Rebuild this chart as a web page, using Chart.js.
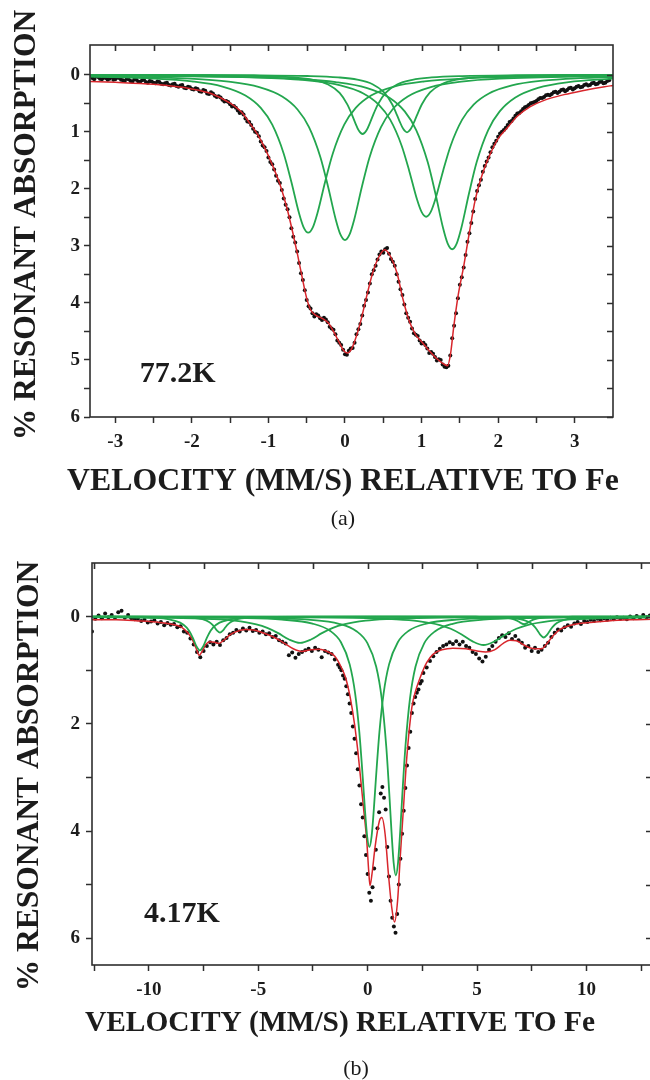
<!DOCTYPE html>
<html>
<head>
<meta charset="utf-8">
<script src="https://cdn.jsdelivr.net/npm/chart.js@4.4.1/dist/chart.umd.min.js"></script>
<style>
  html, body { margin: 0; padding: 0; background: #fff; width: 650px; height: 1080px; overflow: hidden; }
  canvas { position: absolute; left: 0; }
  .caption { position: absolute; left: 0; text-align: center; font: 22px "Liberation Serif", "Times New Roman", serif; color: #1a1a1a; line-height: 24px; }
</style>
</head>
<body>
<canvas id="chartA" width="650" height="540" style="top:0"></canvas>
<canvas id="chartB" width="660" height="540" style="top:540px"></canvas>
<div class="caption" style="top:506px; width:686px">(a)</div>
<div class="caption" style="top:1056px; width:712px">(b)</div>
<script>
// ---------- panel (a): 77.2 K ----------
const xTicksA = [-3, -2.5, -2, -1.5, -1, -0.5, 0, 0.5, 1, 1.5, 2, 2.5, 3];
const yTicksA = [0, 0.5, 1, 1.5, 2, 2.5, 3, 3.5, 4, 4.5, 5, 5.5, 6];

// measured spectrum, velocity (mm/s) and % absorption (even channels)
const velA = [-3.3,-3.25,-3.2,-3.15,-3.1,-3.05,-3,-2.95,-2.9,-2.85,-2.8,-2.75,-2.7,-2.65,-2.6,-2.55,-2.5,-2.45,-2.4,-2.35,-2.3,-2.25,-2.2,-2.15,-2.1,-2.05,-2,-1.95,-1.9,-1.85,-1.8,-1.75,-1.7,-1.65,-1.6,-1.55,-1.5,-1.45,-1.4,-1.35,-1.3,-1.25,-1.2,-1.15,-1.1,-1.05,-1,-0.95,-0.9,-0.85,-0.8,-0.75,-0.7,-0.65,-0.6,-0.55,-0.5,-0.45,-0.4,-0.35,-0.3,-0.25,-0.2,-0.15,-0.1,-0.05,0,0.05,0.1,0.15,0.2,0.25,0.3,0.35,0.4,0.45,0.5,0.55,0.6,0.65,0.7,0.75,0.8,0.85,0.9,0.95,1,1.05,1.1,1.15,1.2,1.25,1.3,1.35,1.4,1.45,1.5,1.55,1.6,1.65,1.7,1.75,1.8,1.85,1.9,1.95,2,2.05,2.1,2.15,2.2,2.25,2.3,2.35,2.4,2.45,2.5,2.55,2.6,2.65,2.7,2.75,2.8,2.85,2.9,2.95,3,3.05,3.1,3.15,3.2,3.25,3.3,3.35,3.4,3.45];
const absA = [.06,.03,.07,.05,.09,.04,.08,.06,.10,.07,.11,.08,.12,.10,.13,.11,.14,.12,.16,.15,.18,.17,.20,.19,.23,.21,.25,.24,.29,.27,.33,.31,.37,.38,.44,.46,.52,.55,.63,.66,.77,.83,.95,1.02,1.17,1.27,1.45,1.57,1.77,1.90,2.17,2.36,2.69,2.94,3.30,3.60,3.95,4.10,4.24,4.22,4.30,4.29,4.42,4.47,4.66,4.74,4.90,4.84,4.79,4.55,4.37,4.05,3.82,3.50,3.35,3.15,3.12,3.04,3.23,3.35,3.63,3.86,4.18,4.33,4.53,4.58,4.71,4.74,4.88,4.89,5.01,5.00,5.12,5.10,4.62,4.18,3.68,3.38,2.93,2.60,2.18,1.94,1.70,1.52,1.36,1.21,1.09,1.00,.93,.83,.77,.68,.64,.57,.53,.49,.46,.41,.39,.35,.34,.30,.30,.26,.27,.23,.24,.20,.21,.17,.18,.14,.16,.12,.14,.10];
// odd channels
const velA2 = [-3.275,-3.225,-3.175,-3.125,-3.075,-3.025,-2.975,-2.925,-2.875,-2.825,-2.775,-2.725,-2.675,-2.625,-2.575,-2.525,-2.475,-2.425,-2.375,-2.325,-2.275,-2.225,-2.175,-2.125,-2.075,-2.025,-1.975,-1.925,-1.875,-1.825,-1.775,-1.725,-1.675,-1.625,-1.575,-1.525,-1.475,-1.425,-1.375,-1.325,-1.275,-1.225,-1.175,-1.125,-1.075,-1.025,-0.975,-0.925,-0.875,-0.825,-0.775,-0.725,-0.675,-0.625,-0.575,-0.525,-0.475,-0.425,-0.375,-0.325,-0.275,-0.225,-0.175,-0.125,-0.075,-0.025,0.025,0.075,0.125,0.175,0.225,0.275,0.325,0.375,0.425,0.475,0.525,0.575,0.625,0.675,0.725,0.775,0.825,0.875,0.925,0.975,1.025,1.075,1.125,1.175,1.225,1.275,1.325,1.375,1.425,1.475,1.525,1.575,1.625,1.675,1.725,1.775,1.825,1.875,1.925,1.975,2.025,2.075,2.125,2.175,2.225,2.275,2.325,2.375,2.425,2.475,2.525,2.575,2.625,2.675,2.725,2.775,2.825,2.875,2.925,2.975,3.025,3.075,3.125,3.175,3.225,3.275,3.325,3.375,3.425];
const absA2 = [.08,.04,.08,.06,.07,.09,.05,.09,.11,.08,.12,.09,.13,.09,.14,.12,.15,.13,.17,.14,.19,.16,.21,.18,.24,.22,.26,.25,.30,.28,.34,.33,.39,.40,.47,.48,.56,.58,.67,.70,.82,.88,1.00,1.08,1.24,1.34,1.53,1.66,1.86,2.02,2.28,2.50,2.84,3.10,3.48,3.78,4.06,4.18,4.20,4.27,4.26,4.34,4.45,4.55,4.70,4.82,4.91,4.80,4.70,4.46,4.22,3.95,3.66,3.43,3.24,3.10,3.06,3.14,3.28,3.50,3.76,4.03,4.26,4.45,4.56,4.66,4.70,4.80,4.86,4.95,4.99,5.08,5.13,4.92,4.40,3.92,3.55,3.16,2.78,2.40,2.04,1.84,1.60,1.45,1.27,1.16,1.03,.97,.88,.81,.72,.67,.60,.56,.50,.48,.43,.41,.36,.36,.31,.32,.27,.29,.24,.26,.21,.22,.18,.19,.15,.17,.13,.15,.11];

// total fit
const fitA = [[-3.33,.12],[-3,.135],[-2.5,.17],[-2,.25],[-1.75,.33],[-1.5,.5],[-1.35,.66],[-1.25,.84],[-1.15,1.03],[-1.05,1.28],[-0.95,1.58],[-0.85,1.92],[-0.75,2.38],[-0.68,2.78],[-0.62,3.15],[-0.56,3.55],[-0.5,3.92],[-0.45,4.12],[-0.38,4.22],[-0.3,4.27],[-0.22,4.35],[-0.15,4.5],[-0.08,4.68],[-0.02,4.83],[0.03,4.88],[0.08,4.82],[0.13,4.66],[0.2,4.35],[0.28,3.9],[0.36,3.48],[0.44,3.2],[0.52,3.07],[0.6,3.2],[0.68,3.48],[0.76,3.95],[0.84,4.32],[0.92,4.55],[1,4.68],[1.1,4.84],[1.2,4.98],[1.3,5.08],[1.34,5.1],[1.38,4.88],[1.42,4.42],[1.48,3.85],[1.55,3.36],[1.62,2.8],[1.7,2.2],[1.8,1.72],[1.9,1.38],[2,1.12],[2.12,.93],[2.25,.73],[2.42,.56],[2.6,.45],[2.86,.35],[3.1,.28],[3.39,.21],[3.5,.19]];

// fitted component lines
const siteA1 = [[-3.33,.035],[-2.5,.068],[-2,.118],[-1.6,.209],[-1.3,.366],[-1.1,.583],[-0.95,.877],[-0.8,1.385],[-0.7,1.881],[-0.6,2.429],[-0.54,2.676],[-0.48,2.77],[-0.42,2.676],[-0.36,2.429],[-0.26,1.881],[-0.16,1.385],[-0.01,.877],[0.14,.583],[0.34,.366],[0.64,.209],[1.04,.118],[1.54,.068],[2.5,.032],[3.5,.018]];
const siteA2 = [[-3.33,.027],[-2.02,.071],[-1.52,.123],[-1.12,.219],[-0.82,.383],[-0.62,.61],[-0.47,.919],[-0.32,1.45],[-0.22,1.969],[-0.12,2.543],[-0.06,2.801],[0,2.9],[0.06,2.801],[0.12,2.543],[0.22,1.969],[0.32,1.45],[0.47,.919],[0.62,.61],[0.82,.383],[1.12,.219],[1.52,.123],[2.02,.071],[3.5,.024]];
const siteA3 = [[-3.33,.004],[-1.77,.01],[-1.07,.024],[-0.67,.049],[-0.42,.09],[-0.22,.172],[-0.07,.32],[0.03,.52],[0.08,.666],[0.13,.832],[0.18,.979],[0.23,1.04],[0.28,.979],[0.33,.832],[0.38,.666],[0.43,.52],[0.53,.32],[0.68,.172],[0.88,.09],[1.13,.049],[1.53,.024],[2.23,.01],[3.5,.004]];
const siteA4 = [[-3.33,.002],[-1.19,.01],[-0.49,.023],[-0.09,.047],[0.16,.087],[0.36,.167],[0.51,.311],[0.61,.505],[0.66,.646],[0.71,.808],[0.76,.95],[0.81,1.01],[0.86,.95],[0.91,.808],[0.96,.646],[1.01,.505],[1.11,.311],[1.26,.167],[1.46,.087],[1.71,.047],[2.11,.023],[2.81,.01],[3.5,.006]];
const siteA5 = [[-3.33,.013],[-2,.027],[-0.96,.061],[-0.46,.106],[-0.06,.188],[0.24,.329],[0.44,.524],[0.59,.789],[0.74,1.245],[0.84,1.691],[0.94,2.184],[1,2.405],[1.06,2.49],[1.12,2.405],[1.18,2.184],[1.28,1.691],[1.38,1.245],[1.53,.789],[1.68,.524],[1.88,.329],[2.18,.188],[2.58,.106],[3.08,.061],[3.5,.042]];
const siteA6 = [[-3.33,.014],[-1.6,.034],[-0.62,.075],[-0.12,.13],[0.28,.231],[0.58,.404],[0.78,.644],[0.93,.97],[1.08,1.53],[1.18,2.078],[1.28,2.684],[1.34,2.956],[1.4,3.06],[1.46,2.956],[1.52,2.684],[1.62,2.078],[1.72,1.53],[1.87,.97],[2.02,.644],[2.22,.404],[2.52,.231],[2.92,.13],[3.5,.069]];

// ---------- panel (b): 4.17 K ----------
const xTicksB = [-12.5, -10, -7.5, -5, -2.5, 0, 2.5, 5, 7.5, 10, 12.5];
const yTicksB = [0, 1, 2, 3, 4, 5, 6];

const velB = [-12.6,-12.45,-12.3,-12.15,-12,-11.85,-11.7,-11.55,-11.4,-11.25,-11.1,-10.95,-10.8,-10.65,-10.5,-10.35,-10.2,-10.05,-9.9,-9.75,-9.6,-9.45,-9.3,-9.15,-9,-8.85,-8.7,-8.55,-8.4,-8.25,-8.1,-7.95,-7.8,-7.65,-7.5,-7.35,-7.2,-7.05,-6.9,-6.75,-6.6,-6.45,-6.3,-6.15,-6,-5.85,-5.7,-5.55,-5.4,-5.25,-5.1,-4.95,-4.8,-4.65,-4.5,-4.35,-4.2,-4.05,-3.9,-3.75,-3.6,-3.45,-3.3,-3.15,-3,-2.85,-2.7,-2.55,-2.4,-2.25,-2.1,-1.95,-1.8,-1.65,-1.5,-1.35,
  -1.275,-1.2,-1.125,-1.05,-0.975,-0.9,-0.825,-0.75,-0.675,-0.6,-0.525,-0.45,-0.375,-0.3,-0.225,-0.15,-0.075,0,0.075,0.15,0.225,0.3,0.375,0.45,0.525,0.6,0.675,0.75,0.825,0.9,0.975,1.05,1.125,1.2,1.275,1.35,1.425,1.5,1.575,1.65,1.725,1.8,1.875,1.95,2.025,2.1,2.175,2.25,2.325,2.4,2.475,
  2.55,2.7,2.85,3,3.15,3.3,3.45,3.6,3.75,3.9,4.05,4.2,4.35,4.5,4.65,4.8,4.95,5.1,5.25,5.4,5.55,5.7,5.85,6,6.15,6.3,6.45,6.6,6.75,6.9,7.05,7.2,7.35,7.5,7.65,7.8,7.95,8.1,8.25,8.4,8.55,8.7,8.85,9,9.15,9.3,9.45,9.6,9.75,9.9,10.05,10.2,10.35,10.5,10.65,10.8,10.95,11.1,11.25,11.4,11.55,11.7,11.85,12,12.15,12.3,12.45,12.6,12.75,12.9];
const absB = [.28,.04,-.02,.03,-.06,.01,-.03,.02,-.08,-.11,.02,-.03,.03,.05,.04,.08,.06,.11,.09,.07,.13,.10,.16,.12,.15,.14,.20,.18,.28,.30,.41,.52,.66,.76,.64,.55,.48,.52,.47,.53,.44,.40,.33,.30,.25,.28,.22,.26,.21,.27,.25,.30,.28,.33,.31,.38,.36,.44,.47,.50,.72,.67,.77,.70,.66,.63,.60,.64,.58,.62,.76,.64,.67,.70,.80,.90,
  .95,1.00,1.10,1.16,1.30,1.45,1.62,1.80,2.05,2.28,2.55,2.85,3.15,3.50,3.75,4.10,4.45,4.80,5.15,5.30,5.05,4.70,4.35,3.95,3.65,3.30,3.18,3.38,3.60,4.30,4.85,5.30,5.62,5.78,5.90,5.55,5.00,4.52,4.05,3.62,3.20,2.78,2.45,2.15,1.80,1.62,1.50,1.42,1.36,1.25,1.20,
  1.05,.95,.83,.74,.66,.60,.55,.52,.48,.51,.46,.52,.47,.55,.58,.66,.70,.78,.84,.75,.62,.55,.47,.40,.35,.38,.31,.42,.36,.44,.49,.58,.55,.64,.58,.66,.62,.55,.49,.38,.30,.24,.26,.20,.16,.19,.13,.10,.14,.08,.10,.06,.08,.04,.07,.03,.06,.02,.05,.01,.04,.02,.05,.00,.03,-.01,.02,-.03,.01,-.02];

const fitB = [[-12.6,.06],[-11.5,.06],[-10.5,.08],[-9.5,.11],[-9,.14],[-8.5,.2],[-8.2,.31],[-8,.44],[-7.85,.58],[-7.7,.72],[-7.55,.64],[-7.4,.52],[-7.2,.47],[-7,.48],[-6.8,.5],[-6.6,.45],[-6.3,.34],[-6,.28],[-5.6,.24],[-5.2,.25],[-4.8,.3],[-4.3,.38],[-3.8,.5],[-3.4,.6],[-3,.65],[-2.6,.62],[-2.2,.61],[-1.8,.66],[-1.5,.74],[-1.2,.95],[-1,1.15],[-0.8,1.5],[-0.6,2],[-0.45,2.5],[-0.34,2.94],[-0.19,3.56],[-0.04,4.18],[0.05,4.75],[0.11,5.02],[0.2,4.8],[0.34,4.3],[0.54,3.81],[0.65,3.75],[0.8,4.06],[0.95,4.8],[1.1,5.42],[1.23,5.7],[1.37,5.3],[1.49,4.49],[1.64,3.56],[1.79,2.63],[2.02,1.7],[2.2,1.38],[2.4,1.14],[2.7,.86],[3,.7],[3.4,.62],[3.9,.59],[4.5,.6],[5,.64],[5.4,.66],[5.8,.62],[6.2,.5],[6.5,.44],[6.8,.45],[7.1,.52],[7.4,.58],[7.7,.6],[7.95,.6],[8.2,.5],[8.5,.35],[8.8,.24],[9.3,.16],[10,.115],[11,.08],[12,.06],[13,.05]];

const siteB1 = [[-12.6,.006],[-8.92,.011],[-5.92,.025],[-3.92,.056],[-2.52,.131],[-1.72,.264],[-1.22,.478],[-0.82,.891],[-0.57,1.435],[-0.38,2.15],[-0.22,3.017],[-0.12,3.617],[-0.02,4.106],[0.08,4.3],[0.18,4.106],[0.28,3.617],[0.38,3.017],[0.54,2.15],[0.73,1.435],[0.98,.891],[1.38,.478],[1.88,.264],[2.68,.131],[4.08,.056],[6.08,.025],[9.08,.011],[13,.005]];
const siteB2 = [[-12.6,.005],[-7.71,.012],[-4.71,.026],[-2.71,.058],[-1.31,.134],[-0.51,.272],[-0.01,.496],[0.39,.932],[0.64,1.518],[0.85,2.415],[0.99,3.297],[1.09,4.003],[1.19,4.593],[1.29,4.83],[1.39,4.593],[1.49,4.003],[1.59,3.297],[1.73,2.415],[1.94,1.518],[2.19,.932],[2.59,.496],[3.09,.272],[3.89,.134],[5.29,.058],[7.29,.026],[10.29,.012],[13,.007]];
const siteB3 = [[-12.6,.005],[-11.17,.009],[-9.87,.022],[-9.07,.052],[-8.57,.113],[-8.27,.207],[-8.09,.315],[-7.97,.417],[-7.82,.559],[-7.67,.63],[-7.52,.559],[-7.37,.417],[-7.25,.315],[-7.07,.207],[-6.77,.113],[-6.27,.052],[-5.47,.022],[-4.17,.009],[-2.67,.004],[2,.001],[13,0]];
const siteB4 = [[-12.6,.001],[-10.75,.002],[-8.95,.007],[-8.05,.02],[-7.55,.048],[-7.25,.099],[-7.1,.15],[-7,.199],[-6.87,.268],[-6.75,.3],[-6.63,.268],[-6.5,.199],[-6.4,.15],[-6.25,.099],[-5.95,.048],[-5.45,.02],[-4.55,.007],[-2.75,.002],[13,0]];
const siteB5 = [[-12.6,.009],[-9.09,.022],[-7.09,.047],[-6.09,.077],[-5.09,.146],[-4.59,.21],[-4.09,.308],[-3.59,.427],[-3.09,.49],[-2.59,.427],[-2.09,.308],[-1.59,.21],[-1.09,.146],[-0.09,.077],[0.91,.047],[2.91,.022],[6.91,.008],[13,.003]];
const siteB6 = [[-12.6,.003],[-4.7,.009],[-0.7,.024],[1.3,.051],[2.3,.084],[3.3,.157],[3.8,.227],[4.3,.333],[4.8,.462],[5.3,.53],[5.8,.462],[6.3,.333],[6.8,.227],[7.3,.157],[8.3,.084],[9.3,.051],[11.3,.024],[13,.015]];
const siteB7 = [[-12.6,0],[3.15,.001],[4.95,.003],[5.85,.009],[6.35,.023],[6.65,.046],[6.8,.07],[6.9,.093],[7.03,.125],[7.15,.14],[7.27,.125],[7.4,.093],[7.5,.07],[7.65,.046],[7.95,.023],[8.45,.009],[9.35,.003],[11.15,.001],[13,0]];
const siteB8 = [[-12.6,0],[4.55,.005],[5.85,.012],[6.65,.029],[7.15,.064],[7.45,.12],[7.65,.195],[7.77,.262],[7.9,.342],[8.05,.39],[8.2,.342],[8.33,.262],[8.45,.195],[8.65,.12],[8.95,.064],[9.45,.029],[10.25,.012],[11.55,.005],[13,.003]];

// ---------- shared styling ----------
const SERIF = '"Liberation Serif", "Times New Roman", serif';
const INK = '#1c1c1c';
const AXIS = '#2e2e2e';
const GREEN = '#23a64e';
const RED = '#d8262c';
const X_TITLE = 'VELOCITY (MM/S) RELATIVE TO Fe';
const Y_TITLE = '% RESONANT ABSORPTION';

Chart.defaults.font.family = SERIF;

function componentSet(pts) {
  return {
    data: pts.map(([x, y]) => ({ x, y })),
    borderColor: GREEN, borderWidth: 1.8, pointRadius: 0, pointHoverRadius: 0,
    cubicInterpolationMode: 'monotone', fill: false, order: 1
  };
}
function fitSet(pts) {
  return {
    data: pts.map(([x, y]) => ({ x, y })),
    borderColor: RED, borderWidth: 1.5, pointRadius: 0, pointHoverRadius: 0,
    cubicInterpolationMode: 'monotone', fill: false, order: 2
  };
}
function pointSet(vel, abs, r) {
  return {
    data: vel.map((x, i) => ({ x, y: abs[i] })),
    showLine: false, pointRadius: r, pointBorderWidth: 0,
    pointBackgroundColor: '#111', pointHoverRadius: 0, order: 3
  };
}

// frame, inward mirror ticks on top/right, axis titles and temperature tag
const framePlugin = {
  id: 'frame',
  afterDatasetsDraw(chart, args, o) {
    const { ctx, chartArea: a, scales: { x, y } } = chart;
    ctx.save();
    ctx.strokeStyle = AXIS;
    ctx.lineWidth = 1.6;
    ctx.strokeRect(a.left, a.top, a.right - a.left, a.bottom - a.top);
    ctx.beginPath();
    x.ticks.forEach(t => {
      const px = Math.round(x.getPixelForValue(t.value)) + 0.5;
      ctx.moveTo(px, a.top); ctx.lineTo(px, a.top + o.tick);
    });
    y.ticks.forEach(t => {
      const py = Math.round(y.getPixelForValue(t.value)) + 0.5;
      ctx.moveTo(a.right, py); ctx.lineTo(a.right - o.tick, py);
    });
    ctx.stroke();

    ctx.fillStyle = INK;
    ctx.textAlign = 'left';
    ctx.textBaseline = 'alphabetic';
    ctx.font = `bold ${o.tag.size}px ${SERIF}`;
    ctx.fillText(o.tag.text, x.getPixelForValue(o.tag.v), y.getPixelForValue(o.tag.a));
    ctx.restore();
  },
  afterDraw(chart, args, o) {
    const { ctx } = chart;
    ctx.save();
    ctx.fillStyle = INK;
    ctx.textAlign = 'center';
    ctx.textBaseline = 'middle';
    ctx.font = `bold ${o.xTitle.size}px ${SERIF}`;
    ctx.fillText(X_TITLE, o.xTitle.cx, o.xTitle.cy);
    ctx.translate(o.yTitle.cx, o.yTitle.cy);
    ctx.rotate(-Math.PI / 2);
    ctx.font = `bold ${o.yTitle.size}px ${SERIF}`;
    ctx.fillText(Y_TITLE, 0, 0);
    ctx.restore();
  }
};

function makeChart(id, cfg) {
  return new Chart(document.getElementById(id), {
    type: 'line',
    data: { datasets: cfg.datasets },
    options: {
      responsive: false, animation: false, devicePixelRatio: 1, events: [],
      layout: { padding: cfg.padding },
      plugins: { legend: { display: false }, tooltip: { enabled: false }, frame: cfg.frame },
      scales: {
        x: {
          type: 'linear', min: cfg.xMin, max: cfg.xMax,
          afterBuildTicks: s => { s.ticks = cfg.xTicks.map(v => ({ value: v })); },
          afterFit: s => { s.height = cfg.xHeight; },
          ticks: {
            autoSkip: false, maxRotation: 0, padding: cfg.xPad, color: INK,
            font: { size: 19, weight: 'bold' },
            callback: v => (v % cfg.xEvery === 0 ? String(v) : '')
          },
          grid: { drawOnChartArea: false, tickLength: 6, tickWidth: 1.5, tickColor: AXIS },
          border: { display: false }
        },
        y: {
          type: 'linear', reverse: true, min: cfg.yMin, max: cfg.yMax,
          afterBuildTicks: s => { s.ticks = cfg.yTicks.map(v => ({ value: v })); },
          afterFit: s => { s.width = cfg.yWidth; },
          ticks: {
            autoSkip: false, padding: cfg.yPad, color: INK,
            font: { size: 19, weight: 'bold' },
            callback: v => (v % cfg.yEvery === 0 ? String(v) : '')
          },
          grid: { drawOnChartArea: false, tickLength: 6, tickWidth: 1.5, tickColor: AXIS },
          border: { display: false }
        }
      }
    },
    plugins: [framePlugin]
  });
}

makeChart('chartA', {
  datasets: [
    pointSet(velA.concat(velA2), absA.concat(absA2), 2), fitSet(fitA),
    componentSet(siteA1), componentSet(siteA2), componentSet(siteA3),
    componentSet(siteA4), componentSet(siteA5), componentSet(siteA6)
  ],
  padding: { top: 45, right: 37, bottom: 0, left: 0 },
  xMin: -3.33, xMax: 3.5, xTicks: xTicksA, xEvery: 1, xHeight: 123, xPad: 8,
  yMin: -0.52, yMax: 6, yTicks: yTicksA, yEvery: 1, yWidth: 90, yPad: 4,
  frame: {
    tick: 6,
    tag: { text: '77.2K', v: -2.68, a: 5.39, size: 30 },
    xTitle: { cx: 343, cy: 482, size: 31.8 },
    yTitle: { cx: 27, cy: 225, size: 31.5 }
  }
});

makeChart('chartB', {
  datasets: [
    pointSet(velB, absB, 2), fitSet(fitB),
    componentSet(siteB1), componentSet(siteB2), componentSet(siteB3), componentSet(siteB4),
    componentSet(siteB5), componentSet(siteB6), componentSet(siteB7), componentSet(siteB8)
  ],
  padding: { top: 23, right: 8, bottom: 0, left: 0 },
  xMin: -12.6, xMax: 13, xTicks: xTicksB, xEvery: 5, xHeight: 115, xPad: 8,
  yMin: -1, yMax: 6.5, yTicks: yTicksB, yEvery: 2, yWidth: 92, yPad: 6,
  frame: {
    tick: 6,
    tag: { text: '4.17K', v: -10.22, a: 5.69, size: 30 },
    xTitle: { cx: 340, cy: 483, size: 29.4 },
    yTitle: { cx: 30, cy: 236, size: 31.5 }
  }
});
</script>
</body>
</html>
